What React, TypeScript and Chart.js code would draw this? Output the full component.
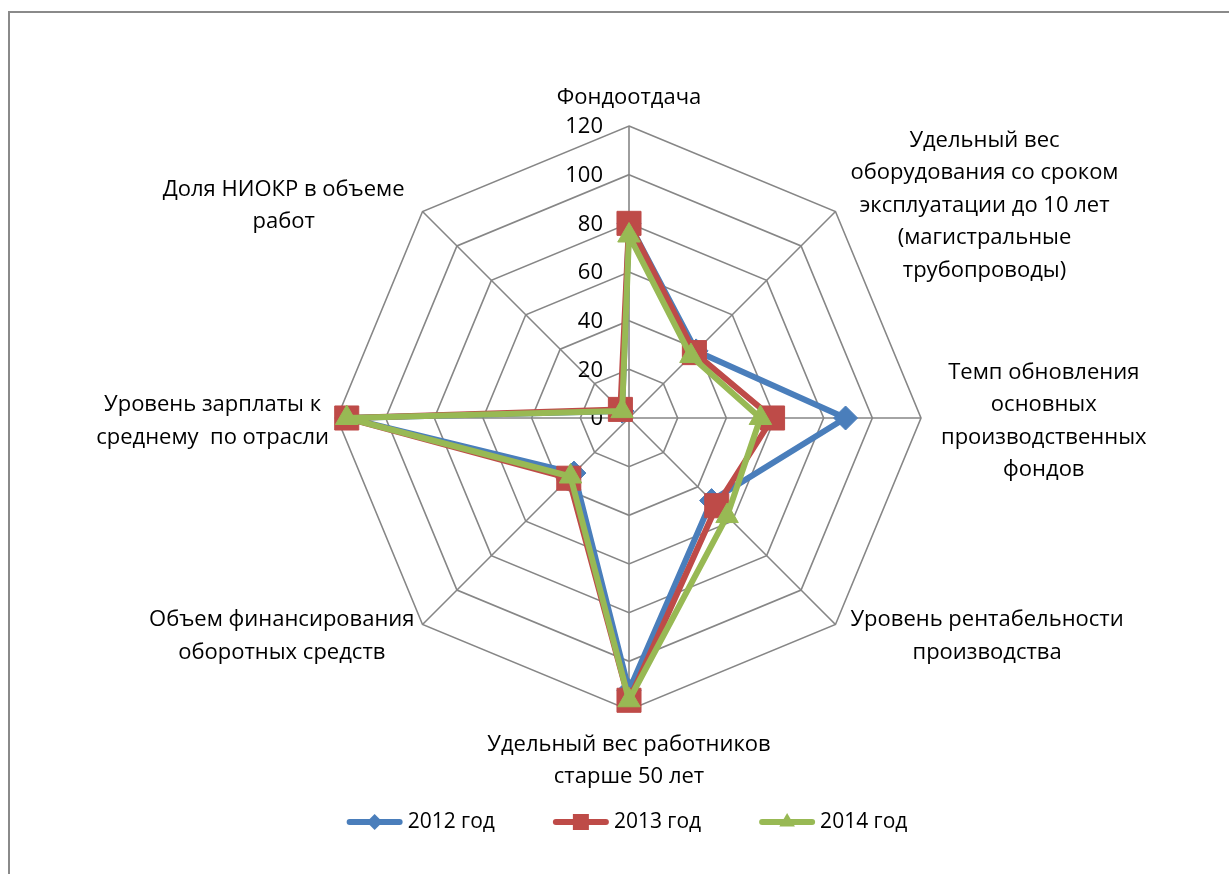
import React, { useEffect, useRef } from "react";
import { Chart, registerables } from "chart.js";

Chart.register(...registerables);

const categories: string[][] = [
  ["Фондоотдача"],
  ["Удельный вес", "оборудования со сроком", "эксплуатации до 10 лет", "(магистральные", "трубопроводы)"],
  ["Темп обновления", "основных", "производственных", "фондов"],
  ["Уровень рентабельности", "производства"],
  ["Удельный вес работников", "старше 50 лет"],
  ["Объем финансирования", "оборотных средств"],
  ["Уровень зарплаты к", "среднему  по отрасли"],
  ["Доля НИОКР в объеме", "работ"],
];

const seriesNames = ["2012 год", "2013 год", "2014 год"];
const values2012 = [80, 39, 89, 48, 112, 32, 116, 4];
const values2013 = [80, 38, 59, 51, 116, 35, 116, 5];
const values2014 = [75, 36, 54, 57, 116, 34, 116, 4];
const tickValues = [0, 20, 40, 60, 80, 100, 120];

const COLORS = ["#4a7ebb", "#be4b48", "#98b954"];
const STYLES = ["rectRot", "rect", "triangle"];
const RADII = [12, 17, 13];
const FONT = '"Open Sans", "Noto Sans", sans-serif';

const labelsPlugin = {
  id: "customLabels",
  beforeDatasetsDraw(chart: any) {
    const r = chart.scales.r;
    const ctx = chart.ctx;
    ctx.save();
    ctx.fillStyle = "#000";
    ctx.font = `22px ${FONT}`;
    ctx.textAlign = "right";
    ctx.textBaseline = "middle";
    tickValues.forEach((v) => {
      const d = r.getDistanceFromCenterForValue(v);
      ctx.fillText(String(v), r.xCenter - 26, r.yCenter - d + 1);
    });
    ctx.restore();
  },
  afterDraw(chart: any) {
    const r = chart.scales.r;
    const ctx = chart.ctx;
    ctx.save();
    ctx.fillStyle = "#000";
    ctx.font = `22px ${FONT}`;
    ctx.textBaseline = "middle";
    ctx.textAlign = "center";
    const lh = 32.5;
    categories.forEach((lines, i) => {
      const p = r.getPointPositionForValue(i, 120);
      const angle = (i * 2 * Math.PI) / categories.length;
      const sx = Math.sin(angle);
      const cy = -Math.cos(angle);
      const widths = lines.map((l) => ctx.measureText(l).width);
      const bw = Math.max(...widths);
      const bh = lines.length * lh;
      let cx = p.x;
      let cyy = p.y;
      if (sx > 0.1) cx = p.x + (Math.abs(cy) < 0.1 ? 20 : 15) + bw / 2;
      else if (sx < -0.1) cx = p.x - (cy < -0.1 ? 18 : 8) - bw / 2;
      if (Math.abs(sx) < 0.1) {
        if (cy < 0) cyy = p.y - 12 - bh / 2;
        else cyy = p.y + 18 + bh / 2;
      } else if (cy > 0.1) {
        cyy = p.y + 12;
      } else if (cy < -0.1) {
        cyy = p.y - 6;
      } else {
        cyy = p.y + 3;
      }
      lines.forEach((l, k) => {
        ctx.fillText(l, cx, cyy - bh / 2 + lh / 2 + k * lh);
      });
    });

    // legend
    ctx.font = `21px ${FONT}`;
    ctx.textAlign = "left";
    const lineLen = 56;
    const gapText = 5;
    const gapItem = 58;
    const tw = seriesNames.map((s) => ctx.measureText(s).width);
    const total = tw.reduce((a, b) => a + b, 0) + seriesNames.length * (lineLen + gapText) + gapItem * (seriesNames.length - 1);
    let x = 627 - total / 2;
    const y = 822;
    seriesNames.forEach((s, i) => {
      ctx.strokeStyle = COLORS[i];
      ctx.fillStyle = COLORS[i];
      ctx.lineWidth = 6;
      ctx.lineCap = "round";
      ctx.beginPath();
      ctx.moveTo(x + 3, y);
      ctx.lineTo(x + lineLen - 3, y);
      ctx.stroke();
      const mx = x + lineLen / 2;
      ctx.beginPath();
      if (i === 0) {
        const m = 8;
        ctx.moveTo(mx - m, y);
        ctx.lineTo(mx, y - m);
        ctx.lineTo(mx + m, y);
        ctx.lineTo(mx, y + m);
      } else if (i === 1) {
        ctx.rect(mx - 8, y - 8, 16, 16);
      } else {
        const m = 9;
        ctx.moveTo(mx, y - m);
        ctx.lineTo(mx + m * 0.866, y + m * 0.5);
        ctx.lineTo(mx - m * 0.866, y + m * 0.5);
      }
      ctx.closePath();
      ctx.fill();
      ctx.fillStyle = "#000";
      ctx.fillText(s, x + lineLen + gapText, y);
      x += lineLen + gapText + tw[i] + gapItem;
    });
    ctx.restore();
  },
};

export default function App() {
  const ref = useRef<HTMLCanvasElement | null>(null);
  useEffect(() => {
    if (!ref.current) return;
    const all = [values2012, values2013, values2014];
    const chart = new Chart(ref.current, {
      type: "radar",
      data: {
        labels: categories.map((c) => c.join(" ")),
        datasets: all.map((vals, i) => ({
          label: seriesNames[i],
          data: vals,
          borderColor: COLORS[i],
          backgroundColor: COLORS[i],
          pointBackgroundColor: COLORS[i],
          pointBorderColor: COLORS[i],
          pointBorderWidth: 1,
          borderWidth: 6,
          borderJoinStyle: "round" as const,
          pointStyle: STYLES[i] as any,
          pointRadius: RADII[i],
          pointHoverRadius: RADII[i],
          fill: false,
          tension: 0,
          order: 3 - i,
        })),
      },
      options: {
        responsive: false,
        animation: false,
        devicePixelRatio: 1,
        layout: { padding: { left: 337, right: 308, top: 126, bottom: 164 } },
        plugins: { legend: { display: false }, tooltip: { enabled: false } },
        scales: {
          r: {
            min: 0,
            max: 120,
            ticks: { stepSize: 20, display: false },
            grid: { color: "#868686", lineWidth: 1.6 },
            angleLines: { color: "#868686", lineWidth: 1.6 },
            pointLabels: { display: false },
          },
        },
      },
      plugins: [labelsPlugin],
    });
    return () => chart.destroy();
  }, []);

  return (
    <div style={{ position: "fixed", left: 0, top: 0, width: "100vw", height: "100vh", overflow: "hidden", background: "#fff" }}>
      <div
        style={{
          position: "absolute",
          left: 8,
          top: 11,
          width: 1400,
          height: 1000,
          border: "2px solid #8a8a8a",
          boxSizing: "border-box",
        }}
      />
      <canvas ref={ref} width={1229} height={874} style={{ position: "absolute", left: 0, top: 0, width: 1229, height: 874 }} />
    </div>
  );
}
